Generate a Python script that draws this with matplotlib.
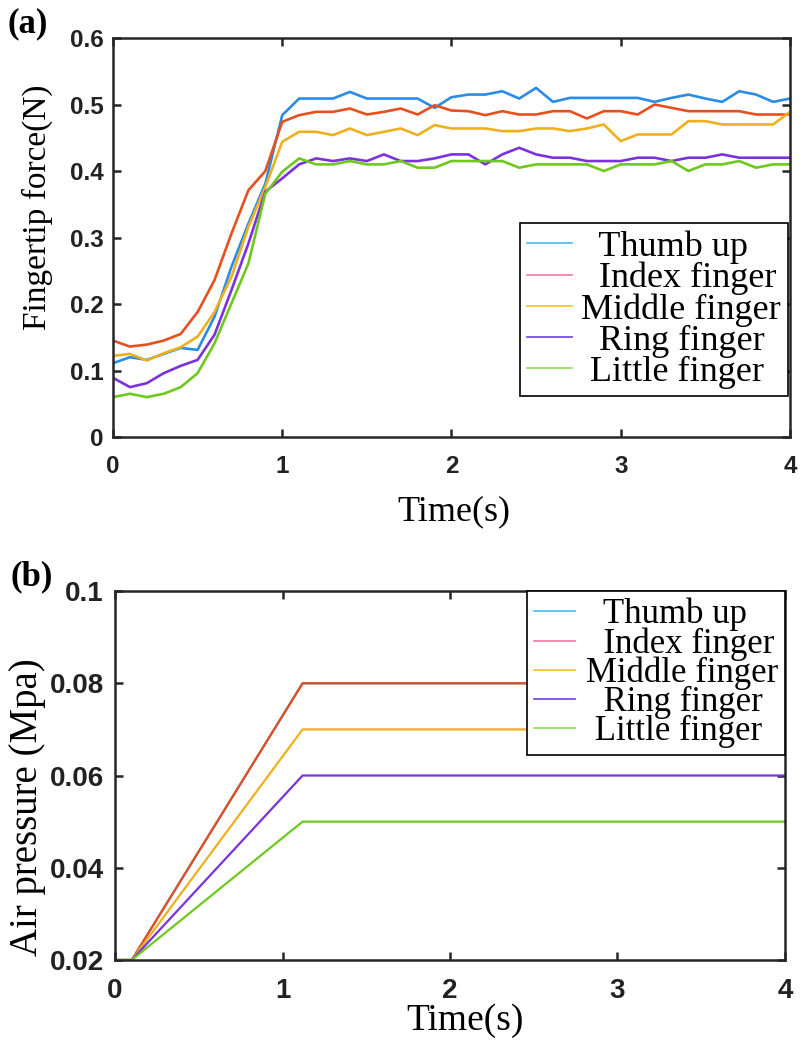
import numpy as np
import matplotlib
matplotlib.use("Agg")
import matplotlib.pyplot as plt
from matplotlib.lines import Line2D
from matplotlib.ticker import FuncFormatter

# ---------------- data ----------------
series_names = ["Thumb up", "Index finger", "Middle finger", "Ring finger", "Little finger"]
legend_labels = ["  Thumb up", "  Index finger", "Middle finger", "  Ring finger", " Little finger"]

time_a = np.round(np.arange(0, 4.01, 0.1), 1)
thumb = [0.111, 0.12, 0.116, 0.125, 0.134, 0.131, 0.181, 0.256, 0.321, 0.381, 0.484,
         0.509, 0.509, 0.509, 0.519, 0.509, 0.509, 0.509, 0.509, 0.495, 0.511,
         0.515, 0.515, 0.52, 0.509, 0.525, 0.504, 0.51, 0.51, 0.51, 0.51,
         0.51, 0.504, 0.51, 0.515, 0.509, 0.504, 0.52, 0.515, 0.504, 0.509]
index = [0.145, 0.136, 0.139, 0.145, 0.155, 0.188, 0.236, 0.306, 0.371, 0.40, 0.474,
         0.484, 0.489, 0.489, 0.494, 0.485, 0.489, 0.494, 0.485, 0.499, 0.491,
         0.49, 0.484, 0.49, 0.485, 0.485, 0.49, 0.49, 0.479, 0.49, 0.49,
         0.485, 0.5, 0.495, 0.49, 0.49, 0.49, 0.49, 0.485, 0.485, 0.485]
middle = [0.122, 0.125, 0.115, 0.126, 0.135, 0.151, 0.188, 0.241, 0.316, 0.376, 0.444,
          0.459, 0.459, 0.454, 0.464, 0.454, 0.459, 0.464, 0.454, 0.469, 0.464,
          0.464, 0.464, 0.46, 0.46, 0.464, 0.464, 0.46, 0.464, 0.47, 0.445,
          0.455, 0.455, 0.455, 0.475, 0.475, 0.47, 0.47, 0.47, 0.47, 0.489]
ring = [0.089, 0.075, 0.081, 0.096, 0.107, 0.116, 0.154, 0.221, 0.291, 0.369, 0.389,
        0.41, 0.419, 0.415, 0.419, 0.415, 0.425, 0.415, 0.415, 0.419, 0.425,
        0.425, 0.41, 0.425, 0.435, 0.425, 0.42, 0.42, 0.415, 0.415, 0.415,
        0.42, 0.42, 0.415, 0.42, 0.42, 0.425, 0.42, 0.42, 0.42, 0.42]
little = [0.06, 0.065, 0.06, 0.065, 0.075, 0.096, 0.141, 0.201, 0.261, 0.366, 0.399,
          0.419, 0.41, 0.41, 0.415, 0.41, 0.41, 0.415, 0.405, 0.405, 0.415,
          0.415, 0.415, 0.415, 0.405, 0.41, 0.41, 0.41, 0.41, 0.4, 0.41,
          0.41, 0.41, 0.415, 0.4, 0.41, 0.41, 0.415, 0.405, 0.41, 0.41]

time_b = [0, 0.1, 1.12, 4.0]
p_thumb = [0.02, 0.02, 0.08, 0.08]
p_index = [0.02, 0.02, 0.08, 0.08]
p_middle = [0.02, 0.02, 0.07, 0.07]
p_ring = [0.02, 0.02, 0.06, 0.06]
p_little = [0.02, 0.02, 0.05, 0.05]

xticks = [0, 1, 2, 3, 4]
yticks_a = [0, 0.1, 0.2, 0.3, 0.4, 0.5, 0.6]
yticks_b = [0.02, 0.04, 0.06, 0.08, 0.1]

# ---------------- style ----------------
line_colors = ["#2a8ce6", "#e6501e", "#efb01e", "#7b32dc", "#6ec81e"]
legend_colors = ["#45bff0", "#f07a9a", "#f2c21a", "#6a40e0", "#8fe04a"]
spine_color = "#262626"
serif = ["Liberation Serif", "DejaVu Serif"]
tickfont = ["Liberation Sans", "DejaVu Sans"]

fig = plt.figure(figsize=(8.02, 10.42), dpi=100)
ax1 = fig.add_axes([0.1409, 0.5806, 0.8441, 0.3829])
ax2 = fig.add_axes([0.1434, 0.0787, 0.8354, 0.3541])

def style_axes(ax, tick_size, xpad, ypad):
    for s in ax.spines.values():
        s.set_linewidth(1.8)
        s.set_color(spine_color)
    ax.tick_params(direction="in", length=6, width=1.8, color=spine_color,
                   top=True, right=True, labelsize=tick_size,
                   labelfontfamily=tickfont[0], labelcolor="#222222")
    ax.tick_params(axis="x", pad=xpad)
    ax.tick_params(axis="y", pad=ypad)
    for lab in ax.get_xticklabels() + ax.get_yticklabels():
        lab.set_fontweight("bold")

fmt = FuncFormatter(lambda v, p: "%g" % round(v, 3))

# ---------------- panel (a) ----------------
for vals, c in zip([thumb, index, middle, ring, little], line_colors):
    ax1.plot(time_a, vals, color=c, linewidth=1.9)
ax1.set_xlim(0, 4)
ax1.set_ylim(0, 0.6)
ax1.set_xticks(xticks)
ax1.set_yticks(yticks_a)
ax1.yaxis.set_major_formatter(fmt)
style_axes(ax1, 17.5, 13, 7)
ax1.set_xlabel("Time(s)", fontsize=26, family=serif)
ax1.set_ylabel("Fingertip force(N)", fontsize=24, family=serif)
ax1.xaxis.set_label_coords(0.504, -0.145)
ax1.yaxis.set_label_coords(-0.088, 0.575)

handles = [Line2D([], [], color=c, linewidth=1.2) for c in legend_colors]
leg1 = ax1.legend(handles, legend_labels, loc="upper right",
                  bbox_to_anchor=(0.997, 0.536), prop={"family": serif, "size": 26},
                  frameon=True, fancybox=False, framealpha=1, edgecolor="black",
                  labelspacing=-0.06, handlelength=1.25, handletextpad=0.25,
                  borderpad=0.2, borderaxespad=0.0)
leg1.get_frame().set_linewidth(1.2)

# ---------------- panel (b) ----------------
for vals, c in zip([p_thumb, p_index, p_middle, p_ring, p_little], line_colors):
    ax2.plot(time_b, vals, color=c, linewidth=1.6)
ax2.set_xlim(0, 4)
ax2.set_ylim(0.02, 0.1)
ax2.set_xticks(xticks)
ax2.set_yticks(yticks_b)
ax2.yaxis.set_major_formatter(fmt)
style_axes(ax2, 20, 13, 8)
ax2.set_xlabel("Time(s)", fontsize=27, family=serif)
ax2.set_ylabel("Air pressure (Mpa)", fontsize=28, family=serif)
ax2.xaxis.set_label_coords(0.522, -0.1165)
ax2.yaxis.set_label_coords(-0.103, 0.415)

handles2 = [Line2D([], [], color=c, linewidth=1.2) for c in legend_colors]
leg2 = ax2.legend(handles2, legend_labels, loc="upper right",
                  bbox_to_anchor=(1.0, 1.0), prop={"family": serif, "size": 25},
                  frameon=True, fancybox=False, framealpha=1, edgecolor="black",
                  labelspacing=-0.12, handlelength=1.2, handletextpad=0.3,
                  borderpad=0.2, borderaxespad=0.0)
leg2.get_frame().set_linewidth(1.2)

# panel labels
fig.text(28 / 802, 1 - 24 / 1042, "(a)", fontsize=25, fontweight="bold", family=serif,
         ha="center", va="center")
fig.text(32 / 802, 1 - 577 / 1042, "(b)", fontsize=25, fontweight="bold", family=serif,
         ha="center", va="center")

fig.savefig("out.png", dpi=100)
